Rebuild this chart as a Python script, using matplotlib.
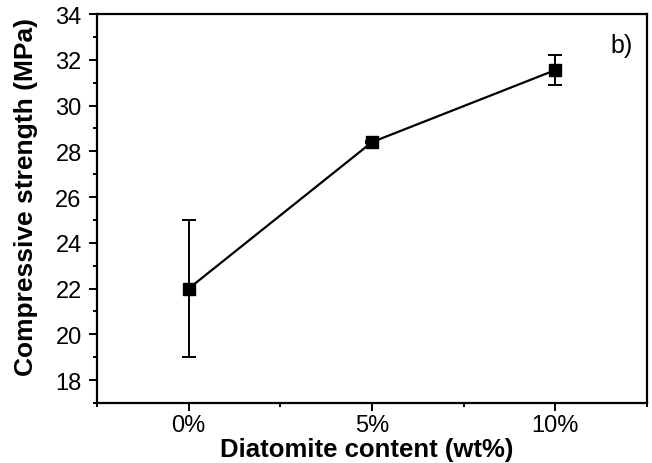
import matplotlib.pyplot as plt
from matplotlib.ticker import MultipleLocator

plt.rcParams['font.family'] = ['Liberation Sans', 'DejaVu Sans']

# data
labels = ['0%', '5%', '10%']
strength = [22.0, 28.4, 31.55]
errors = [3.0, 0.05, 0.65]
x = [1, 2, 3]

fig = plt.figure(figsize=(6.52, 4.64), dpi=100)
ax = fig.add_axes([97 / 652, 60 / 464, 550 / 652, 389 / 464])

ax.errorbar(x, strength, yerr=errors, color='black', marker='s', markersize=8.5,
            linewidth=1.6, elinewidth=1.4, capsize=5, capthick=1.4)

ax.set_xlim(0.5, 3.5)
ax.set_ylim(17, 34)
ax.set_xticks(x)
ax.set_xticklabels(labels)
ax.set_xticks([0.5, 1.5, 2.5, 3.5], minor=True)
ax.yaxis.set_major_locator(MultipleLocator(2))
ax.yaxis.set_minor_locator(MultipleLocator(1))

ax.tick_params(which='both', direction='out', top=False, right=False, labelsize=17, width=1.4)
ax.tick_params(which='major', length=6)
ax.tick_params(which='minor', length=3)
ax.tick_params(axis='x', which='major', pad=2)
ax.tick_params(axis='y', which='major', pad=5)
for s in ax.spines.values():
    s.set_linewidth(1.6)

ax.set_xlabel('Diatomite content (wt%)', fontsize=18.5, fontweight='bold')
ax.set_ylabel('Compressive strength (MPa)', fontsize=19, fontweight='bold')
ax.xaxis.set_label_coords(0.491, -0.088)
ax.yaxis.set_label_coords(-0.107, 0.531)
ax.text(0.953, 0.92, 'b)', transform=ax.transAxes, fontsize=18, ha='center', va='center')

fig.savefig('out.png', dpi=100)
